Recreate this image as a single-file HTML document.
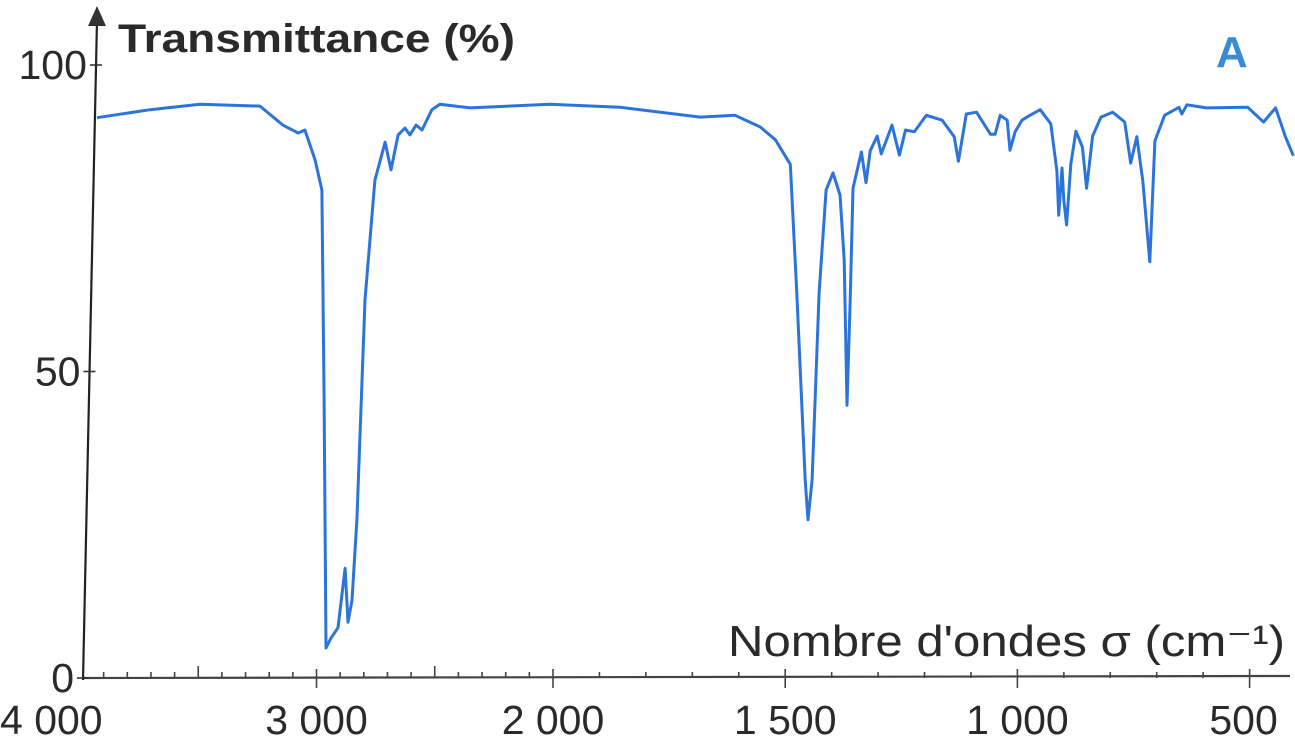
<!DOCTYPE html>
<html><head><meta charset="utf-8"><style>
html,body{margin:0;padding:0;background:#fff;}
svg{display:block;}
text{font-family:"Liberation Sans","DejaVu Sans",sans-serif;}
</style></head><body>
<svg id="chart" width="1295" height="750" viewBox="0 0 1295 750" xmlns="http://www.w3.org/2000/svg">
<g id="axes"></g>
<path id="spectrum" fill="none" stroke="#2b74dc" stroke-width="3" stroke-linejoin="round"/>
<text x="118" y="52" font-size="40" font-weight="bold" fill="#2a2a2a" textLength="397" lengthAdjust="spacingAndGlyphs">Transmittance (%)</text>
<text x="1216" y="67" font-size="44" font-weight="bold" fill="#3a8ad6">A</text>
<text x="728" y="656" font-size="44" fill="#2a2a2a" textLength="557" lengthAdjust="spacingAndGlyphs">Nombre d'ondes σ (cm⁻¹)</text>
</svg>
<script>
const wavenumbers=[3928,3704,3493,3239,3142,3078,3049,3006,2977,2968,2960,2939,2909,2879,2867,2850,2829,2795,2753,2710,2685,2655,2626,2605,2579,2554,2512,2478,2351,2013,1856,1683,1608,1554,1521,1489,1475,1457,1451,1442,1427,1412,1397,1382,1373,1367,1360,1354,1336,1326,1317,1302,1293,1270,1254,1241,1222,1196,1162,1136,1127,1110,1088,1058,1048,1037,1022,1016,1005,990,973,951,928,915,911,904,900,894,885,874,860,851,838,820,795,769,756,743,730,715,704,683,652,646,635,593,504,470,444,423,406];
const transmittance=[91.4,92.7,93.6,93.3,90.2,88.9,89.4,84.5,79.6,45.4,4.9,6.5,8.2,17.9,9.1,12.7,25.8,61.7,81.2,87.4,82.9,88.6,89.7,88.6,90.2,89.4,92.7,93.6,93.0,93.6,93.1,91.5,91.8,89.9,87.8,83.8,62.8,32.3,25.8,32.3,62.8,79.6,82.4,78.8,68.2,44.5,61.7,79.9,85.8,80.8,86.0,88.4,85.5,90.2,85.3,89.4,89.1,91.8,91.0,88.3,84.3,92.0,92.3,88.7,88.7,91.8,91.0,86.1,89.1,91.0,91.8,92.7,90.4,82.7,75.5,83.2,78.0,73.9,83.8,89.2,86.6,79.9,88.4,91.5,92.3,90.7,84.0,88.3,81.1,67.9,87.6,91.8,93.1,92.0,93.5,93.0,93.1,90.7,93.0,88.3,85.2];
const xTickValues=[4000,3000,2000,1500,1000,500];
const xTickLabels=["4 000","3 000","2 000","1 500","1 000","500"];
const yTickValues=[0,50,100];
const yTickLabels=["0","50","100"];

function xs(w){ return w>=2000 ? 80+(4000-w)*0.2365 : 553+(2000-w)*0.4644; }
function ys(t){ return 678-t*6.13; }
function yAxisX(y){ return 83+(678-y)*(14/665); }

const NS="http://www.w3.org/2000/svg";
const axes=document.getElementById('axes');
function mk(tag,attrs,parent){const e=document.createElementNS(NS,tag);for(const k in attrs)e.setAttribute(k,attrs[k]);(parent||axes).appendChild(e);return e;}

let d='';
for(let i=0;i<wavenumbers.length;i++){d+=(i?'L':'M')+xs(wavenumbers[i]).toFixed(1)+','+ys(transmittance[i]).toFixed(1);}
document.getElementById('spectrum').setAttribute('d',d);

const xl=mk('line',{x1:83,y1:678,x2:1290,y2:676,stroke:'#444','stroke-width':2.2});


const yl=mk('line',{x1:83,y1:680,x2:97,y2:20,stroke:'#222','stroke-width':2.2});


const ar=mk('polygon',{points:'97,6 88,26 106,26',fill:'#333'});



for(let w=3900;w>=450;w-=100){
  const x=xs(w);
  const isMajor=xTickValues.includes(w);
  const isHalf=(w%500===0)&&!isMajor;
  const t=mk('line',{x1:x,y1:isMajor?688:678,x2:x,y2:isMajor?669:(isHalf?666:672),stroke:'#444','stroke-width':1.6});
  
  
}
xTickValues.forEach((v,i)=>{
  const t=mk('text',{x:xs(v)+(i===5?-6:0),y:734,'font-size':41,'text-anchor':i===0?'start':'middle',fill:'#2a2a2a'});
  t.textContent=xTickLabels[i];
  if(i===0)t.setAttribute('x',0);
  
  
});
yTickValues.forEach((v,i)=>{
  const y=ys(v),x=yAxisX(y);
  const t=mk('line',{x1:x-6,y1:y,x2:x+6,y2:y,stroke:'#333','stroke-width':1.6});
  
  
  const l=mk('text',{x:x-9,y:y+14,'font-size':41,'text-anchor':'end',fill:'#2a2a2a'});
  l.textContent=yTickLabels[i];
  
  
});
</script>
</body></html>
